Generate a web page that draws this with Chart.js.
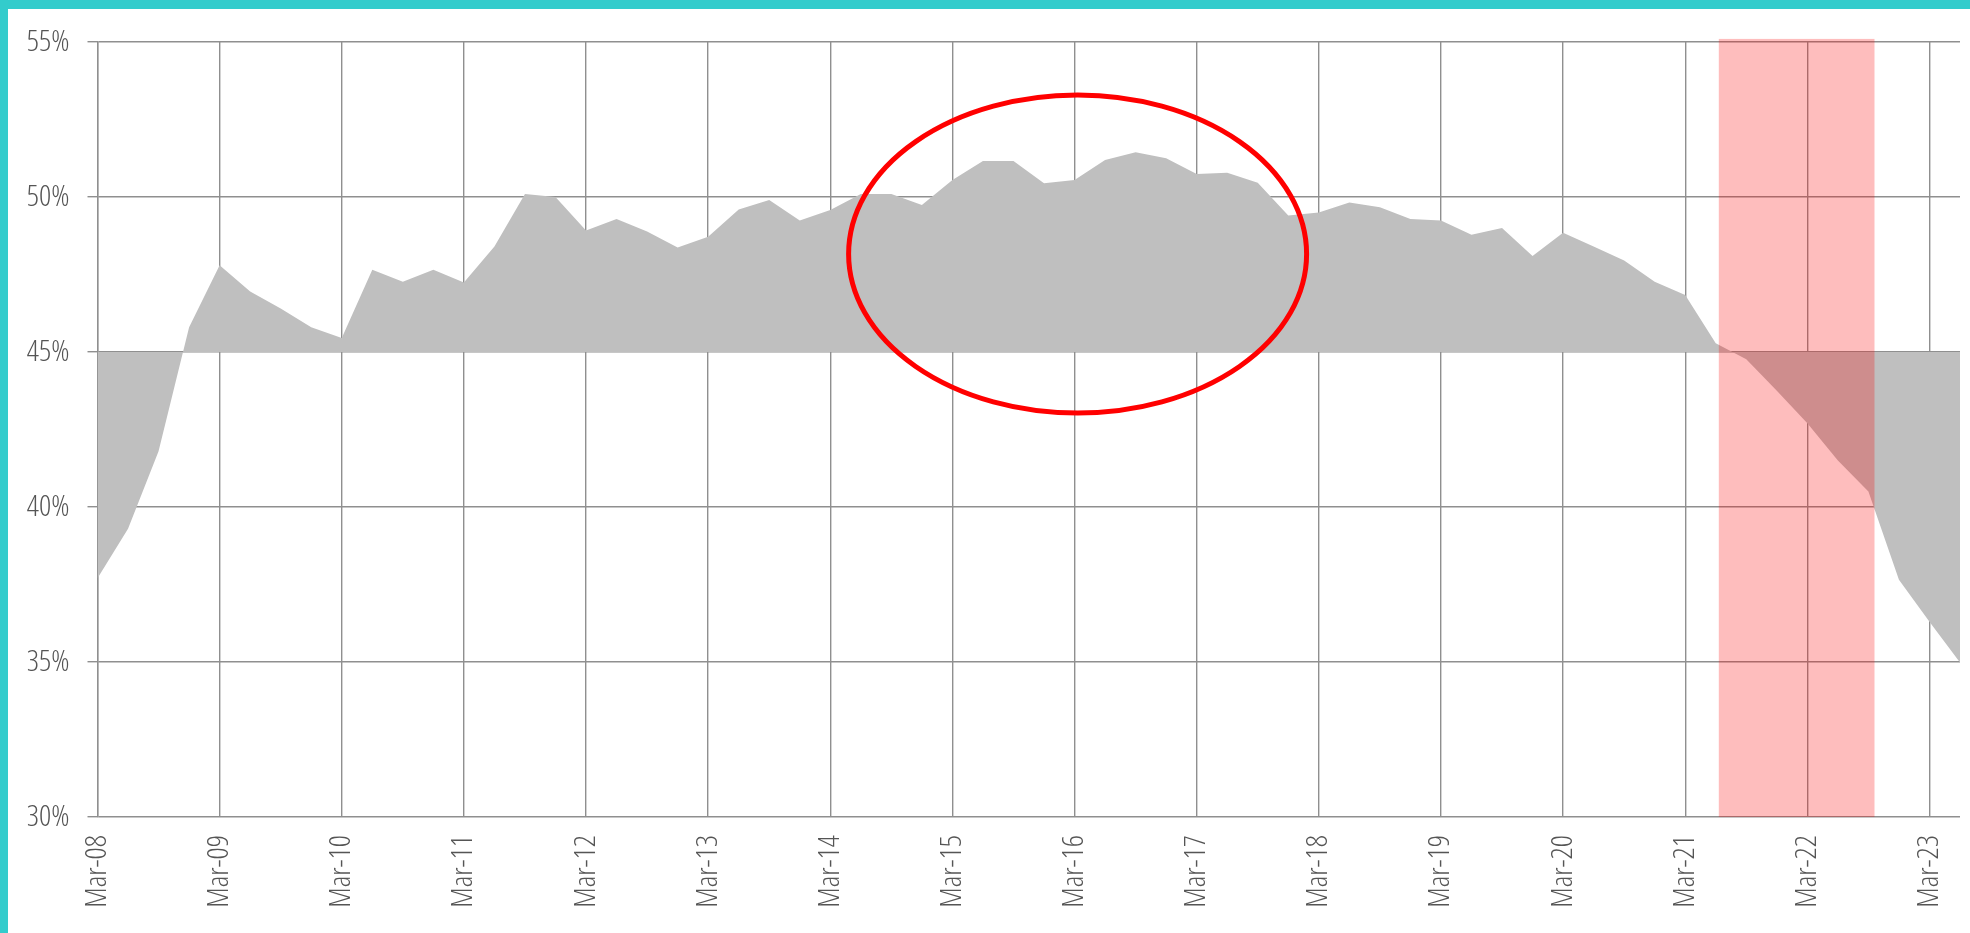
<!DOCTYPE html>
<html>
<head>
<meta charset="utf-8">
<script src="https://cdn.jsdelivr.net/npm/chart.js@4/dist/chart.umd.min.js"></script>
<style>
  html, body { margin: 0; padding: 0; background: #ffffff; }
  #wrap { position: relative; width: 1970px; height: 933px; overflow: hidden; }
  #chart { position: absolute; left: 0; top: 0; }
  .frame { position: absolute; background: #33CCCC; }
  #frameTop { left: 0; top: 0; width: 1970px; height: 9px; }
  #frameLeft { left: 0; top: 0; width: 8px; height: 933px; }
</style>
</head>
<body>
<div id="wrap">
  <canvas id="chart" width="1970" height="933"></canvas>
  <div class="frame" id="frameTop"></div>
  <div class="frame" id="frameLeft"></div>
</div>
<script>
// Quarterly periods, Mar-08 .. Jun-23
const quarters = [
  'Mar-08','Jun-08','Sep-08','Dec-08',
  'Mar-09','Jun-09','Sep-09','Dec-09',
  'Mar-10','Jun-10','Sep-10','Dec-10',
  'Mar-11','Jun-11','Sep-11','Dec-11',
  'Mar-12','Jun-12','Sep-12','Dec-12',
  'Mar-13','Jun-13','Sep-13','Dec-13',
  'Mar-14','Jun-14','Sep-14','Dec-14',
  'Mar-15','Jun-15','Sep-15','Dec-15',
  'Mar-16','Jun-16','Sep-16','Dec-16',
  'Mar-17','Jun-17','Sep-17','Dec-17',
  'Mar-18','Jun-18','Sep-18','Dec-18',
  'Mar-19','Jun-19','Sep-19','Dec-19',
  'Mar-20','Jun-20','Sep-20','Dec-20',
  'Mar-21','Jun-21','Sep-21','Dec-21',
  'Mar-22','Jun-22','Sep-22','Dec-22',
  'Mar-23','Jun-23'
];

// Share (%) per quarter
const shareValues = [
  37.7, 39.3, 41.8, 45.8,
  47.8, 46.95, 46.4, 45.8,
  45.45, 47.65, 47.27, 47.65,
  47.24, 48.4, 50.1, 50.0,
  48.92, 49.29, 48.89, 48.37,
  48.72, 49.6, 49.9, 49.24,
  49.58, 50.1, 50.1, 49.74,
  50.55, 51.16, 51.16, 50.44,
  50.55, 51.19, 51.44, 51.25,
  50.74, 50.78, 50.46, 49.4,
  49.5, 49.82, 49.67, 49.29,
  49.24, 48.78, 49.0, 48.1,
  48.85, 48.4, 47.95, 47.27,
  46.84, 45.28, 44.77, 43.75,
  42.7, 41.5, 40.5, 37.65,
  36.3, 34.98
];

// Reference level the area is filled against
const baselineValue = 45;

// Y axis ticks (%)
const yTicks = [30, 35, 40, 45, 50, 55];

// Highlighted period (category index range) and its top value
const highlightRange = [53.1, 58.2];
const highlightTop = 55.1;

// Emphasis ellipse, in axis units: centre (index, %), radii (quarters, %)
const ellipseCentre = [32.1, 48.16];
const ellipseRadii = [7.5, 5.13];

const GRID = '#8f8f8f';
const TEXT = '#555555';
const FONT = '"Open Sans", "DejaVu Sans Condensed", sans-serif';

const overlays = {
  id: 'overlays',
  afterDraw(chart) {
    const { ctx, scales: { x, y } } = chart;
    // shaded period
    const x0 = x.getPixelForValue(highlightRange[0]);
    const x1 = x.getPixelForValue(highlightRange[1]);
    const yTop = y.getPixelForValue(highlightTop);
    const yBot = y.getPixelForValue(y.min);
    ctx.save();
    ctx.fillStyle = 'rgba(250, 0, 0, 0.26)';
    ctx.fillRect(x0, yTop, x1 - x0, yBot - yTop);
    // ellipse
    const cx = x.getPixelForValue(ellipseCentre[0]);
    const cy = y.getPixelForValue(ellipseCentre[1]);
    const rx = Math.abs(x.getPixelForValue(ellipseCentre[0] + ellipseRadii[0]) - cx);
    const ry = Math.abs(y.getPixelForValue(ellipseCentre[1] + ellipseRadii[1]) - cy);
    ctx.beginPath();
    ctx.ellipse(cx, cy, rx, ry, 0, 0, Math.PI * 2);
    ctx.lineWidth = 5;
    ctx.strokeStyle = '#ff0000';
    ctx.stroke();
    ctx.restore();
  }
};

new Chart(document.getElementById('chart'), {
  type: 'line',
  data: {
    labels: quarters,
    datasets: [{
      data: shareValues,
      fill: { value: baselineValue },
      backgroundColor: '#bfbfbf',
      borderColor: 'rgba(0,0,0,0)',
      borderWidth: 0,
      pointRadius: 0,
      tension: 0
    }]
  },
  options: {
    responsive: false,
    animation: false,
    devicePixelRatio: 1,
    layout: { padding: { top: 42, right: 10, bottom: 0, left: 0 } },
    plugins: { legend: { display: false }, tooltip: { enabled: false } },
    scales: {
      x: {
        type: 'category',
        offset: false,
        grid: {
          color: (c) => (c.index % 4 === 0 ? GRID : 'rgba(0,0,0,0)'),
          lineWidth: 1.4,
          drawTicks: false
        },
        border: { display: false },
        ticks: {
          autoSkip: false,
          minRotation: 90,
          maxRotation: 90,
          padding: 18,
          color: TEXT,
          font: { family: FONT, size: 30, weight: '300 semi-condensed' },
          callback: function (value, index) {
            return index % 4 === 0 ? this.getLabelForValue(value) : '';
          }
        },
        afterFit: (s) => { s.height = 116; s.paddingLeft = 0; s.paddingRight = 0; }
      },
      y: {
        min: 30,
        max: 55,
        z: 1,
        afterBuildTicks: (s) => { s.ticks = yTicks.map(v => ({ value: v })); },
        grid: { color: GRID, lineWidth: 1.4, drawTicks: true, tickLength: 10 },
        border: { display: true, color: GRID, width: 1.4 },
        ticks: {
          padding: 18,
          color: TEXT,
          font: { family: FONT, size: 30, weight: '300 condensed' },
          callback: (v) => v + '%'
        },
        afterFit: (s) => { s.width = 97.5; }
      }
    }
  },
  plugins: [overlays]
});
</script>
</body>
</html>
